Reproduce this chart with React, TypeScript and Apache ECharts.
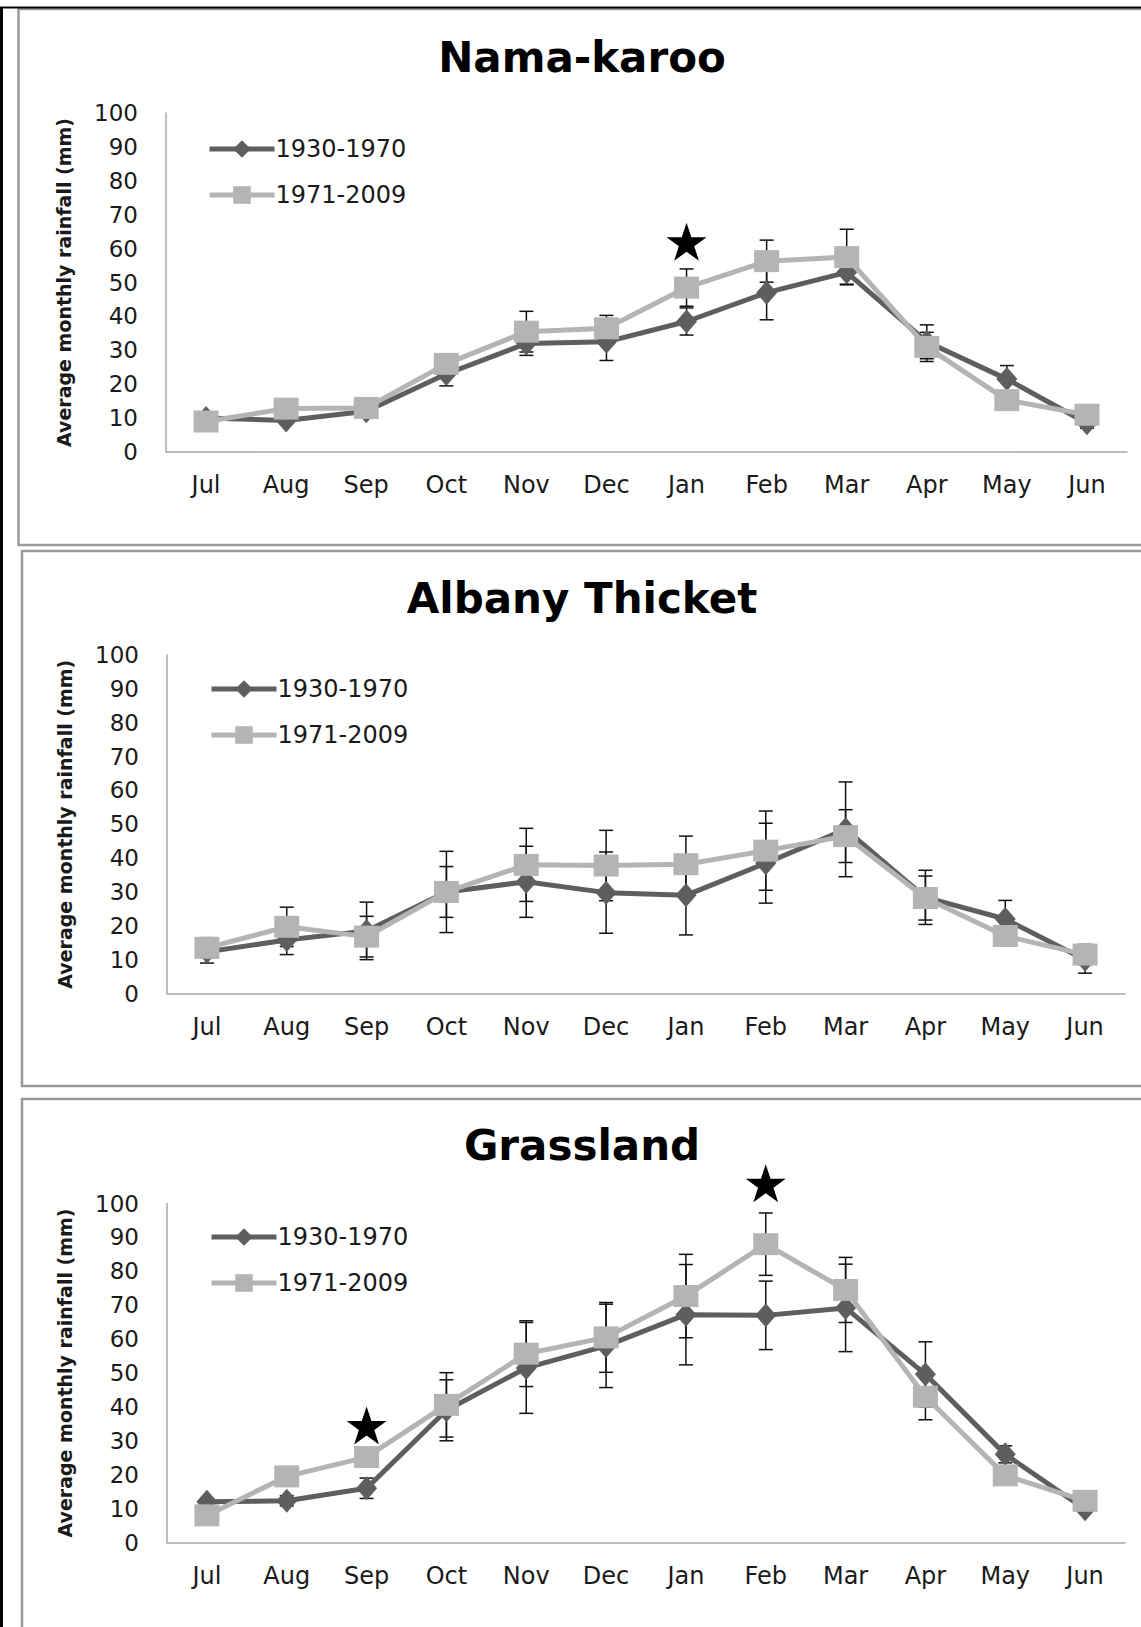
import React, { useEffect, useRef } from 'react';
import * as echarts from 'echarts';

// Months of the hydrological year (July to June)
const months = ['Jul', 'Aug', 'Sep', 'Oct', 'Nov', 'Dec', 'Jan', 'Feb', 'Mar', 'Apr', 'May', 'Jun'];
const periods = ['1930-1970', '1971-2009'];
const biomes = ['Nama-karoo', 'Albany Thicket', 'Grassland'];

// Nama-karoo: mean monthly rainfall (mm) and error-bar half widths
const namaEarly = [10, 9.3, 12, 23, 32, 32.5, 38.5, 47, 53, 32.5, 21.5, 8.5];
const namaEarlyErr = [1.5, 1, 1.5, 3.5, 3.5, 5.5, 4, 8, 3.5, 5, 4, 1.5];
const namaLate = [9, 12.8, 13, 26, 35.5, 36.5, 48.5, 56.3, 57.5, 31, 15.3, 11];
const namaLateErr = [1, 1, 2.8, 2.8, 6, 3.8, 5.5, 6.2, 8.2, 4.3, 1, 1];

// Albany Thicket
const albanyEarly = [12.3, 15.8, 18.5, 30, 33, 29.8, 29, 38.5, 48.5, 28.4, 22, 10];
const albanyEarlyErr = [3.3, 4.3, 8.5, 12, 10.5, 12, 11.7, 11.8, 14, 8, 5.5, 4];
const albanyLate = [13.5, 19.7, 16.8, 30, 38, 37.8, 38.2, 42.2, 46.5, 28.2, 17, 11.5];
const albanyLateErr = [3, 5.8, 6, 7.5, 10.8, 10.4, 8.3, 11.7, 7.8, 6.5, 2, 3];

// Grassland
const grassEarly = [12, 12.3, 16, 39, 51.5, 58, 67.2, 67, 69.2, 49.6, 26, 9.8];
const grassEarlyErr = [1, 1.5, 3, 9, 13.4, 12.3, 14.8, 10.1, 12.9, 9.6, 2.5, 1];
const grassLate = [8, 19.5, 25.2, 40.6, 55.7, 60.5, 72.7, 88, 74.5, 43, 19.8, 12.3];
const grassLateErr = [1, 1, 1, 9.5, 9.7, 10.3, 12.3, 9.2, 9.6, 6.8, 1.5, 1];

// Significance markers: [month, height in mm]
const namaStars = [['Jan', 62]];
const albanyStars: (string | number)[][] = [];
const grassStars = [['Sep', 34.5], ['Feb', 106]];

const yAxisTitle = 'Average monthly rainfall (mm)';

const DARK = '#5e5e5e';
const LIGHT = '#b4b4b4';
const FONT = 'DejaVu Sans';
const TEXT = '#1a1a1a';
const STAR_PATH =
  'path://M50,0 L61.8,35.1 L98.9,35.1 L68.9,56.8 L80.3,91.9 L50,70.2 L19.7,91.9 L31.1,56.8 L1.1,35.1 L38.2,35.1 Z';

const panels = [
  {
    title: biomes[0], early: namaEarly, earlyErr: namaEarlyErr, late: namaLate, lateErr: namaLateErr,
    stars: namaStars, frameY: 9, frameH: 536, frameX: 18.5, titleY: 57,
    grid: { left: 166, right: 14, top: 113, height: 339 }, legendTop: 137, legendLeft: 207,
  },
  {
    title: biomes[1], early: albanyEarly, earlyErr: albanyEarlyErr, late: albanyLate, lateErr: albanyLateErr,
    stars: albanyStars, frameY: 551, frameH: 535, frameX: 22, titleY: 598,
    grid: { left: 167, right: 16, top: 655, height: 338.5 }, legendTop: 677, legendLeft: 209,
  },
  {
    title: biomes[2], early: grassEarly, earlyErr: grassEarlyErr, late: grassLate, lateErr: grassLateErr,
    stars: grassStars, frameY: 1099, frameH: 560, frameX: 22, titleY: 1145,
    grid: { left: 167, right: 16, top: 1203.5, height: 339 }, legendTop: 1225, legendLeft: 209,
  },
];

function errorBars(idx: number, values: number[], errs: number[], z: number) {
  return {
    type: 'custom',
    name: 'err-' + idx + '-' + z,
    xAxisIndex: idx,
    yAxisIndex: idx,
    z,
    silent: true,
    data: values.map((v, i) => [i, v, errs[i]]),
    encode: { x: 0, y: 1 },
    renderItem: (_params: any, api: any) => {
      const i = api.value(0);
      const v = api.value(1);
      const e = api.value(2);
      const hi = api.coord([i, v + e]);
      const lo = api.coord([i, v - e]);
      const cap = 7;
      const style = { stroke: '#111', lineWidth: 1.5 };
      return {
        type: 'group',
        children: [
          { type: 'line', shape: { x1: hi[0], y1: hi[1], x2: lo[0], y2: lo[1] }, style },
          { type: 'line', shape: { x1: hi[0] - cap, y1: hi[1], x2: hi[0] + cap, y2: hi[1] }, style },
          { type: 'line', shape: { x1: lo[0] - cap, y1: lo[1], x2: lo[0] + cap, y2: lo[1] }, style },
        ],
      };
    },
  };
}

function buildOption() {
  const grids: any[] = [];
  const xAxes: any[] = [];
  const yAxes: any[] = [];
  const legends: any[] = [];
  const series: any[] = [];
  const graphics: any[] = [];

  // outer black frame lines
  graphics.push({ type: 'line', shape: { x1: 1.5, y1: 7, x2: 1.5, y2: 1627 }, style: { stroke: '#000', lineWidth: 3 }, z: 10 });
  graphics.push({ type: 'line', shape: { x1: 0, y1: 7.5, x2: 1141, y2: 7.5 }, style: { stroke: '#000', lineWidth: 2 }, z: 10 });

  panels.forEach((p, idx) => {
    graphics.push({
      type: 'rect',
      shape: { x: p.frameX, y: p.frameY, width: 1141 - p.frameX + 10, height: p.frameH },
      style: { fill: 'none', stroke: '#9a9a9a', lineWidth: 2.5 },
      z: 0,
    });
    graphics.push({
      type: 'text',
      x: 582,
      y: p.titleY,
      style: {
        text: p.title,
        textAlign: 'center',
        textVerticalAlign: 'middle',
        fontFamily: FONT,
        fontWeight: 'bold',
        fontSize: 42,
        fill: '#000',
      },
    });

    grids.push({ ...p.grid, containLabel: false });
    xAxes.push({
      type: 'category',
      gridIndex: idx,
      data: months,
      boundaryGap: true,
      axisLine: { lineStyle: { color: '#a8a8a8', width: 1.5 } },
      axisTick: { show: false },
      axisLabel: { fontFamily: FONT, fontSize: 24, color: TEXT, margin: 21 },
      splitLine: { show: false },
    });
    yAxes.push({
      type: 'value',
      gridIndex: idx,
      min: 0,
      max: 100,
      interval: 10,
      axisLine: { show: true, lineStyle: { color: '#a8a8a8', width: 1.5 } },
      axisTick: { show: false },
      splitLine: { show: false },
      axisLabel: { fontFamily: FONT, fontSize: 23, color: TEXT, margin: 28 },
      name: yAxisTitle,
      nameLocation: 'middle',
      nameGap: 93,
      nameTextStyle: { fontFamily: FONT, fontWeight: 'bold', fontSize: 19, color: TEXT },
    });
    legends.push({
      orient: 'vertical',
      left: p.legendLeft,
      top: p.legendTop,
      padding: 0,
      itemWidth: 65,
      itemHeight: 22,
      itemGap: 22,
      selectedMode: false,
      data: periods,
      lineStyle: { width: 5 },
      textStyle: { fontFamily: FONT, fontSize: 24, lineHeight: 22, color: TEXT, padding: [0, 0, 0, -4] },
    });

    series.push(errorBars(idx, p.early, p.earlyErr, 1));
    series.push(errorBars(idx, p.late, p.lateErr, 1));
    series.push({
      type: 'line',
      name: periods[0],
      xAxisIndex: idx,
      yAxisIndex: idx,
      data: p.early,
      z: 3,
      symbol: 'diamond',
      symbolSize: [21, 24],
      showAllSymbol: true,
      lineStyle: { color: DARK, width: 5 },
      itemStyle: { color: DARK },
    });
    series.push({
      type: 'line',
      name: periods[1],
      xAxisIndex: idx,
      yAxisIndex: idx,
      data: p.late,
      z: 4,
      symbol: 'rect',
      symbolSize: [25, 22],
      showAllSymbol: true,
      lineStyle: { color: LIGHT, width: 5 },
      itemStyle: { color: LIGHT },
    });
    series.push({
      type: 'scatter',
      name: 'significance-' + idx,
      xAxisIndex: idx,
      yAxisIndex: idx,
      data: p.stars,
      symbol: STAR_PATH,
      symbolSize: [40, 38],
      clip: false,
      z: 5,
      itemStyle: { color: '#000', opacity: 1 },
    });
  });

  return {
    animation: false,
    backgroundColor: '#fff',
    grid: grids,
    xAxis: xAxes,
    yAxis: yAxes,
    legend: legends,
    series,
    graphic: graphics,
  };
}

export default function App() {
  const ref = useRef<HTMLDivElement>(null);
  useEffect(() => {
    document.body.style.margin = '0';
    if (!ref.current) return;
    const chart = echarts.init(ref.current, undefined, { renderer: 'svg' });
    chart.setOption(buildOption() as any);
    return () => chart.dispose();
  }, []);
  return <div ref={ref} style={{ width: 1141, height: 1627 }} />;
}
